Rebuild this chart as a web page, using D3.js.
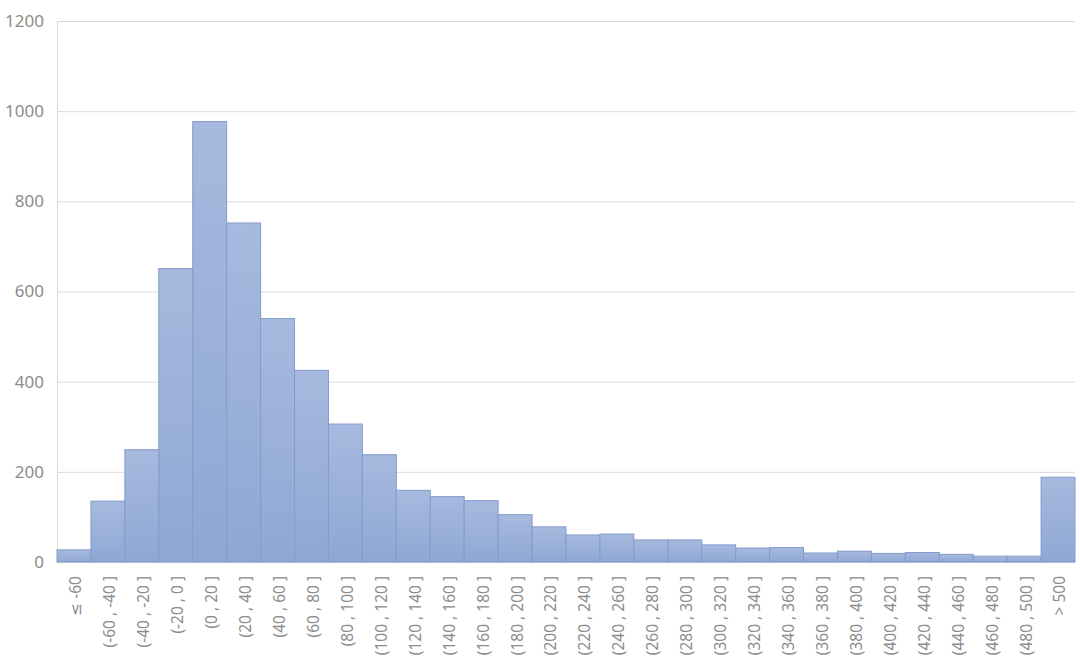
<!DOCTYPE html>
<html><head><meta charset="utf-8">
<script src="https://cdn.jsdelivr.net/npm/d3@7"></script>
<style>
html,body{margin:0;padding:0;background:#fff;}
svg{display:block;}
text{font-family:"Noto Sans","DejaVu Sans",sans-serif;fill:#8a8a8a;}
</style></head>
<body>
<script>
const categories = ["≤ -60","(-60 , -40 ]","(-40 , -20 ]","(-20 , 0 ]","(0 , 20 ]","(20 , 40 ]","(40 , 60 ]","(60 , 80 ]","(80 , 100 ]","(100 , 120 ]","(120 , 140 ]","(140 , 160 ]","(160 , 180 ]","(180 , 200 ]","(200 , 220 ]","(220 , 240 ]","(240 , 260 ]","(260 , 280 ]","(280 , 300 ]","(300 , 320 ]","(320 , 340 ]","(340 , 360 ]","(360 , 380 ]","(380 , 400 ]","(400 , 420 ]","(420 , 440 ]","(440 , 460 ]","(460 , 480 ]","(480 , 500 ]","> 500"];
const values = [27,135,249,651,977,752,540,425,306,238,159,145,136,105,78,60,62,49,49,38,31,32,20,24,19,21,17,13,13,188];
const yTicks = [0,200,400,600,800,1000,1200];

const W = 1080, H = 669;
const m = {left:57, right:5, top:21, bottom:107};
const svg = d3.select("body").append("svg").attr("width",W).attr("height",H);

const x = d3.scaleBand().domain(categories).range([m.left, W-m.right]).padding(0);
const y = d3.scaleLinear().domain([0,1200]).range([H-m.bottom, m.top]);

const defs = svg.append("defs");
const grad = defs.append("linearGradient").attr("id","barGrad").attr("x1",0).attr("y1",0).attr("x2",0).attr("y2",1);
grad.append("stop").attr("offset","0%").attr("stop-color","#a7b9de");
grad.append("stop").attr("offset","100%").attr("stop-color","#8ea8d4");

// gridlines
const yAxis = d3.axisLeft(y).tickValues(yTicks).tickSize(-(W-m.right-m.left)).tickPadding(13).tickFormat(d3.format("d"));
const gy = svg.append("g").attr("transform",`translate(${m.left},0)`).call(yAxis);
gy.select(".domain").attr("stroke","#d9d9d9");
gy.selectAll(".tick line").attr("stroke","#d9d9d9").attr("stroke-width",1);
gy.selectAll(".tick text").attr("font-size",17).style("fill","#8c8c8c");

// bars
svg.append("g").selectAll("rect").data(values).join("rect")
  .attr("x",(d,i)=>x(categories[i]))
  .attr("y",d=>y(d))
  .attr("width",x.bandwidth())
  .attr("height",d=>y(0)-y(d))
  .attr("fill","url(#barGrad)")
  .attr("stroke","#839ccb")
  .attr("stroke-width",1);

// x labels
const xAxis = d3.axisBottom(x).tickSize(0).tickPadding(0);
const gx = svg.append("g").attr("transform",`translate(0,${y(0)})`).call(xAxis);
gx.select(".domain").remove();
gx.selectAll(".tick text")
  .attr("font-size",15.5)
  .style("fill","#8c8c8c")
  .attr("text-anchor","end")
  .attr("transform","translate(2,14) rotate(-90)")
  .attr("x",0).attr("y",0).attr("dy","0.35em");
</script>
</body></html>
